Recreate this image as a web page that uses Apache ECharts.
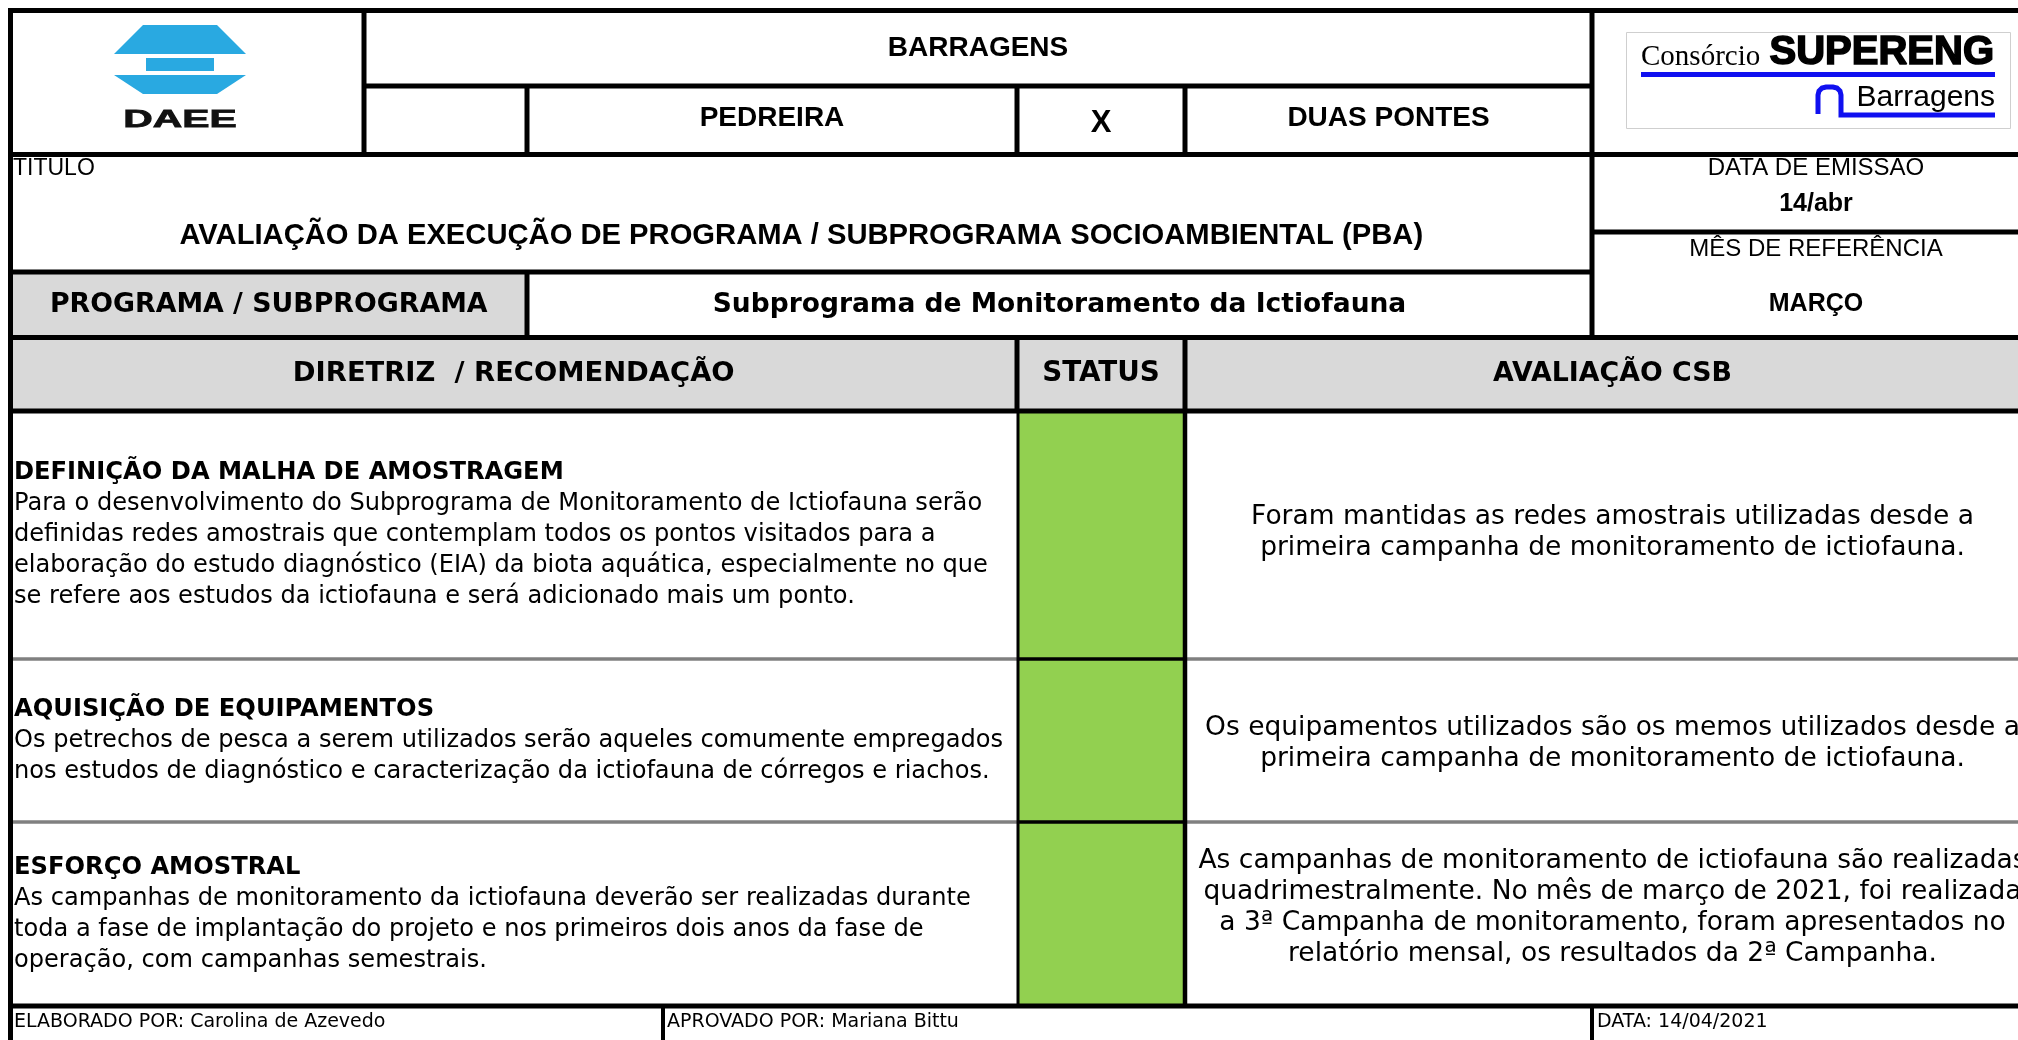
<!DOCTYPE html>
<html>
<head>
<meta charset="utf-8">
<script src="https://cdn.jsdelivr.net/npm/echarts@6/dist/echarts.min.js"></script>
<style>
html,body{margin:0;padding:0;background:#fff;}
#chart{width:2018px;height:1040px;}
</style>
</head>
<body>
<div id="chart"></div>
<script>
// ---------- content ----------
const headerTop = 'BARRAGENS';
const damNames = ['PEDREIRA', 'X', 'DUAS PONTES'];
const titleLabel = 'TITULO';
const titleText = 'AVALIAÇÃO DA EXECUÇÃO DE PROGRAMA / SUBPROGRAMA SOCIOAMBIENTAL (PBA)';
const metaLabels = ['DATA DE EMISSÃO', 'MÊS DE REFERÊNCIA'];
const metaValues = ['14/abr', 'MARÇO'];
const programLabel = 'PROGRAMA / SUBPROGRAMA';
const programName = 'Subprograma de Monitoramento da Ictiofauna';
const columnHeaders = ['DIRETRIZ  / RECOMENDAÇÃO', 'STATUS', 'AVALIAÇÃO CSB'];
const guidelineTitles = ['DEFINIÇÃO DA MALHA DE AMOSTRAGEM', 'AQUISIÇÃO DE EQUIPAMENTOS', 'ESFORÇO AMOSTRAL'];
const guidelineTexts = [
  ['Para o desenvolvimento do Subprograma de Monitoramento de Ictiofauna serão',
   'definidas redes amostrais que contemplam todos os pontos visitados para a',
   'elaboração do estudo diagnóstico (EIA) da biota aquática, especialmente no que',
   'se refere aos estudos da ictiofauna e será adicionado mais um ponto.'],
  ['Os petrechos de pesca a serem utilizados serão aqueles comumente empregados',
   'nos estudos de diagnóstico e caracterização da ictiofauna de córregos e riachos.'],
  ['As campanhas de monitoramento da ictiofauna deverão ser realizadas durante',
   'toda a fase de implantação do projeto e nos primeiros dois anos da fase de',
   'operação, com campanhas semestrais.']
];
const statuses = ['verde', 'verde', 'verde'];
const evaluations = [
  ['Foram mantidas as redes amostrais utilizadas desde a',
   'primeira campanha de monitoramento de ictiofauna.'],
  ['Os equipamentos utilizados são os memos utilizados desde a',
   'primeira campanha de monitoramento de ictiofauna.'],
  ['As campanhas de monitoramento de ictiofauna são realizadas',
   'quadrimestralmente. No mês de março de 2021, foi realizada',
   'a 3ª Campanha de monitoramento, foram apresentados no',
   'relatório mensal, os resultados da 2ª Campanha.']
];
const footerTexts = ['ELABORADO POR: Carolina de Azevedo', 'APROVADO POR: Mariana Bittu', 'DATA: 14/04/2021'];
const logoLeftText = 'DAEE';
const logoRightTexts = ['Consórcio', 'SUPERENG', 'Barragens'];

// ---------- layout (page grid) ----------
const COL = {L: 10.5, logo: 364, c1: 527, c2: 1017, c3: 1185, R: 1592, E: 2040, foot: 663};
const ROW = {T: 10.5, r1: 86, r2: 154.5, dm: 232, r3: 272, r4: 337.5, r5: 411, B: 1040};
const dataRowEdges = [411, 659, 822, 1006];
const LINE_H = 31;
const evalOffset = [-2, 3, -6];
const statusColorMap = {verde: '#92d050', amarelo: '#ffff00', vermelho: '#ff0000'};
const ARIAL = '"Liberation Sans", Arial, sans-serif';
const VERD = '"DejaVu Sans", Verdana, sans-serif';

const els = [];
function rect(x, y, w, h, fill, z) {
  els.push({type: 'rect', silent: true, z: z || 1, shape: {x, y, width: w, height: h}, style: {fill}});
}
function hline(y, x1, x2, w, c, z) {
  els.push({type: 'line', silent: true, z: z || 5, shape: {x1, y1: y, x2, y2: y}, style: {stroke: c || '#000', lineWidth: w || 5}});
}
function vline(x, y1, y2, w, c, z) {
  els.push({type: 'line', silent: true, z: z || 5, shape: {x1: x, y1, x2: x, y2}, style: {stroke: c || '#000', lineWidth: w || 5}});
}
function text(t, x, y, font, align, extra) {
  els.push({type: 'text', silent: true, z: 10, style: Object.assign({text: t, x, y, font, fill: '#000', textAlign: align || 'center', textVerticalAlign: 'middle'}, extra || {})});
}

// fills
rect(COL.L, ROW.r3, COL.c1 - COL.L, ROW.r4 - ROW.r3, '#d9d9d9');
rect(COL.L, ROW.r4, COL.E - COL.L, ROW.r5 - ROW.r4, '#d9d9d9');
statuses.forEach((s, i) => {
  rect(COL.c2, dataRowEdges[i], COL.c3 - COL.c2, dataRowEdges[i + 1] - dataRowEdges[i], statusColorMap[s], 2);
});

// grid lines
hline(ROW.T, COL.L - 2.5, COL.E);
hline(ROW.r1, COL.logo, COL.R);
hline(ROW.r2, COL.L, COL.E);
hline(ROW.dm, COL.R, COL.E);
hline(ROW.r3, COL.L, COL.R);
hline(ROW.r4, COL.L, COL.E);
hline(ROW.r5, COL.L, COL.E);
for (let i = 1; i < dataRowEdges.length - 1; i++) {
  hline(dataRowEdges[i], COL.L, COL.c2, 3.5, '#808080');
  hline(dataRowEdges[i], COL.c3, COL.E, 3.5, '#808080');
  hline(dataRowEdges[i], COL.c2, COL.c3, 3.5, '#000', 6);
}
hline(dataRowEdges[3], COL.L, COL.E);
vline(COL.L, ROW.T - 2.5, ROW.B);
vline(COL.logo, ROW.T, ROW.r2);
vline(COL.c1, ROW.r1, ROW.r2);
vline(COL.c2, ROW.r1, ROW.r2);
vline(COL.c3, ROW.r1, ROW.r2);
vline(COL.R, ROW.T, ROW.r4);
vline(COL.c1, ROW.r3, ROW.r4);
vline(COL.c2, ROW.r4, ROW.r5);
vline(COL.c3, ROW.r4, ROW.r5);
vline(COL.c2 + 1, ROW.r5, dataRowEdges[3], 3);
vline(COL.c3, ROW.r5, dataRowEdges[3], 4.5);
vline(COL.foot, dataRowEdges[3], ROW.B, 4);
vline(COL.R, dataRowEdges[3], ROW.B, 4);

// header texts
text(headerTop, (COL.logo + COL.R) / 2, 48, 'bold 28px ' + ARIAL);
text(damNames[0], (COL.c1 + COL.c2) / 2, 118, 'bold 28px ' + ARIAL);
text(damNames[1], (COL.c2 + COL.c3) / 2, 123, 'bold 31px ' + ARIAL);
text(damNames[2], (COL.c3 + COL.R) / 2, 118, 'bold 28px ' + ARIAL);
text(titleLabel, 13, 169, '23px ' + ARIAL, 'left');
text(titleText, (COL.L + COL.R) / 2, 236, 'bold 29.2px ' + ARIAL);
const rc = (COL.R + COL.E) / 2;
text(metaLabels[0], rc, 168, '24px ' + ARIAL);
text(metaValues[0], rc, 204, 'bold 25px ' + ARIAL);
text(metaLabels[1], rc, 249, '24px ' + ARIAL);
text(metaValues[1], rc, 304, 'bold 25px ' + ARIAL);
text(programLabel, (COL.L + COL.c1) / 2, 305, 'bold 26.8px ' + VERD);
text(programName, (COL.c1 + COL.R) / 2, 305, 'bold 26.5px ' + VERD);
text(columnHeaders[0], (COL.L + COL.c2) / 2, 374, 'bold 27.4px ' + VERD);
text(columnHeaders[1], (COL.c2 + COL.c3) / 2, 374, 'bold 27.8px ' + VERD);
text(columnHeaders[2], (COL.c3 + COL.E) / 2, 374, 'bold 26.8px ' + VERD);

// data rows
guidelineTitles.forEach((t, i) => {
  const mid = (dataRowEdges[i] + dataRowEdges[i + 1]) / 2;
  const lines = guidelineTexts[i];
  const n = lines.length + 1;
  const y0 = mid - (n - 1) / 2 * LINE_H;
  text(t, 14, y0, 'bold 24.2px ' + VERD, 'left');
  lines.forEach((l, j) => text(l, 14, y0 + (j + 1) * LINE_H, '24.1px ' + VERD, 'left'));
  const ev = evaluations[i];
  const e0 = mid - (ev.length - 1) / 2 * LINE_H + evalOffset[i];
  ev.forEach((l, j) => text(l, (COL.c3 + COL.E) / 2, e0 + j * LINE_H, '26.5px ' + VERD));
});

// footer
const fy = 1022;
text(footerTexts[0], 14, fy, '19px ' + VERD, 'left');
text(footerTexts[1], COL.foot + 4, fy, '19px ' + VERD, 'left');
text(footerTexts[2], COL.R + 5, fy, '19px ' + VERD, 'left');

// DAEE logo
const blue = '#29a9e1';
els.push({type: 'polygon', silent: true, z: 8, shape: {points: [[143,25],[217,25],[246,54],[114,54]]}, style: {fill: blue}});
els.push({type: 'rect', silent: true, z: 8, shape: {x: 146, y: 58, width: 68, height: 13}, style: {fill: blue}});
els.push({type: 'polygon', silent: true, z: 8, shape: {points: [[114,75],[246,75],[217,94],[143,94]]}, style: {fill: blue}});
els.push({type: 'text', silent: true, z: 10, x: 180, y: 120, scaleX: 1.7, scaleY: 1,
  style: {text: logoLeftText, x: 0, y: 0, font: 'bold 24px ' + ARIAL, fill: '#111', textAlign: 'center', textVerticalAlign: 'middle', stroke: '#111', lineWidth: 0.8}});

// SUPERENG logo
const logoBlue = '#1010f0';
els.push({type: 'rect', silent: true, z: 7, shape: {x: 1626.5, y: 32.5, width: 384, height: 96}, style: {fill: '#fff', stroke: '#cfcfcf', lineWidth: 1}});
text(logoRightTexts[0], 1641, 57, '29px "Liberation Serif", serif', 'left');
text(logoRightTexts[1], 1994, 53, 'bold 40px ' + ARIAL, 'right', {stroke: '#000', lineWidth: 1.6});
hline(74.5, 1641, 1995, 5, logoBlue, 9);
text(logoRightTexts[2], 1995, 98, '30px ' + ARIAL, 'right');
els.push({type: 'polyline', silent: true, z: 9, shape: {points: [[1818,114],[1818,95],[1819,91],[1822,88],[1826,87],[1833,87],[1837,88],[1840,91],[1841,95],[1841,115],[1995,115]]}, style: {stroke: logoBlue, lineWidth: 5, fill: null}});

const chart = echarts.init(document.getElementById('chart'), null, {renderer: 'canvas', width: 2018, height: 1040});
chart.setOption({animation: false, backgroundColor: '#fff', graphic: {elements: els}});
</script>
</body>
</html>
